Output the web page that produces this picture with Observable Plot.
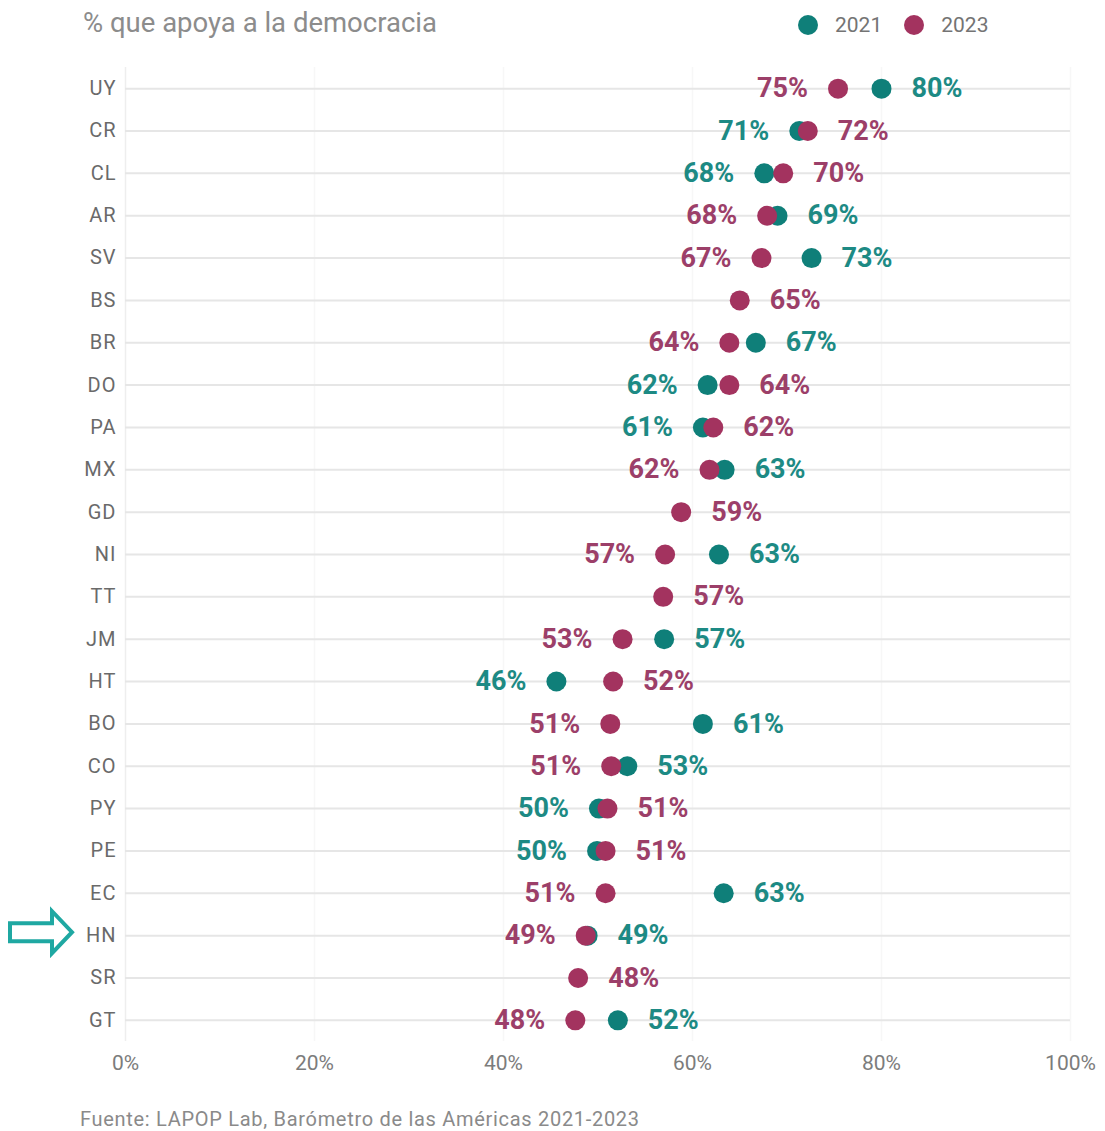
<!DOCTYPE html>
<html><head><meta charset="utf-8">
<script src="https://cdn.jsdelivr.net/npm/d3@7"></script>
<script src="https://cdn.jsdelivr.net/npm/@observablehq/plot@0.6"></script>
<style>
html,body{margin:0;padding:0;background:#fff;font-family:Roboto,sans-serif;}
#wrap{width:1105px;}
#head{position:relative;height:50px;}
#title{position:absolute;left:83px;top:6px;font-size:27.5px;color:#8c8c8c;white-space:nowrap;font-weight:400;}
#legend{position:absolute;left:798px;top:13px;display:flex;align-items:center;font-size:21px;color:#747474;}
.sw{width:20px;height:20px;border-radius:50%;display:inline-block;margin-right:17px;}
.lg{margin-right:22px;}
#chart svg{display:block;}
#chart svg g[aria-label="y-axis tick label"] text{letter-spacing:1px;}
#foot{margin:0;padding:18px 0 0 80px;font-size:20px;line-height:22px;letter-spacing:0.7px;color:#8a8a8a;white-space:nowrap;}
</style></head>
<body>
<div id="wrap">
  <div id="head">
    <div id="title">% que apoya a la democracia</div>
    <div id="legend"></div>
  </div>
  <div id="chart"></div>
  <div id="foot">Fuente: LAPOP Lab, Barómetro de las Américas 2021-2023</div>
</div>
<script>
const countries = ["UY","CR","CL","AR","SV","BS","BR","DO","PA","MX","GD","NI","TT","JM","HT","BO","CO","PY","PE","EC","HN","SR","GT"];
const v2021 = [80.0,71.3,67.6,69.0,72.6,null,66.7,61.6,61.1,63.4,null,62.8,null,57.0,45.6,61.1,53.1,50.1,49.9,63.3,48.9,null,52.1];
const v2023 = [75.4,72.2,69.6,67.9,67.3,65.0,63.9,63.9,62.2,61.8,58.8,57.1,56.9,52.6,51.6,51.3,51.4,51.0,50.8,50.8,48.7,47.9,47.6];
const years = ["2021","2023"];
const xTicks = [0,20,40,60,80,100];
const highlight = "HN";

const colors = {"2021":"#0f7f79","2023":"#a3335f"};
const labelColors = {"2021":"#1d8a84","2023":"#9c3f69"};

// legend
const leg = document.getElementById("legend");
years.forEach(y => {
  const s = document.createElement("span"); s.className="sw"; s.style.background=colors[y]; leg.appendChild(s);
  const t = document.createElement("span"); t.className="lg"; t.textContent=y; leg.appendChild(t);
});

const rows = [];
countries.forEach((c,i) => {
  const a = v2021[i], b = v2023[i];
  if (a != null) rows.push({country:c, year:"2021", value:a, side: (b != null && a <= b) ? "left" : "right"});
  if (b != null) rows.push({country:c, year:"2023", value:b, side: (a != null && b < a) ? "left" : "right"});
});
const fmt = v => Math.round(v) + "%";

const textMarks = [];
years.forEach(y => {
  ["left","right"].forEach(side => {
    textMarks.push(Plot.text(rows.filter(r => r.year===y && r.side===side), {
      x:"value", y:"country", text: d => fmt(d.value),
      dx: side==="left" ? -30 : 30,
      textAnchor: side==="left" ? "end" : "start",
      fill: labelColors[y], fontSize: 27, fontWeight: 700
    }));
  });
});

const chart = Plot.plot({
  width: 1105, height: 1040,
  marginLeft: 125, marginRight: 35, marginTop: 17, marginBottom: 49,
  style: {fontFamily: "Roboto, sans-serif", background: "#fff"},
  x: {domain:[0,100]},
  y: {domain: countries, type:"point", padding:0.5, round:false},
  marks: [
    Plot.ruleX([0], {stroke:"#eeeeee", strokeWidth:1.5}),
    Plot.ruleX(xTicks.slice(1), {stroke:"#f7f7f7", strokeWidth:1.5}),
    Plot.ruleY(countries, {x1:0, x2:100, stroke:"#e6e6e6", strokeWidth:2}),
    Plot.axisX({ticks: xTicks, tickFormat: d => d + "%", tickSize:0, tickPadding:14, fontSize:21, fill:"#7c7c7c", label:null}),
    Plot.axisY({tickSize:0, tickPadding:9, fontSize:20, fill:"#6a6a6a", label:null}),
    Plot.dot(rows.filter(r => r.year==="2021"), {x:"value", y:"country", r:10, fill: colors["2021"]}),
    Plot.dot(rows.filter(r => r.year==="2023"), {x:"value", y:"country", r:10, fill: colors["2023"]}),
    ...textMarks
  ]
});
document.getElementById("chart").appendChild(chart);

// highlight arrow next to HN
const yPos = chart.scale("y").apply(highlight) - 3;
const x0 = 10, xb = 52, xt = 72, hs = 9, hh = 21;
const path = `M${x0},${yPos-hs} L${xb},${yPos-hs} L${xb},${yPos-hh} L${xt},${yPos} L${xb},${yPos+hh} L${xb},${yPos+hs} L${x0},${yPos+hs} Z`;
d3.select(chart).append("path").attr("d", path).attr("fill","none")
  .attr("stroke","#1fa8a2").attr("stroke-width",4).attr("stroke-linejoin","miter");
</script>
</body></html>
